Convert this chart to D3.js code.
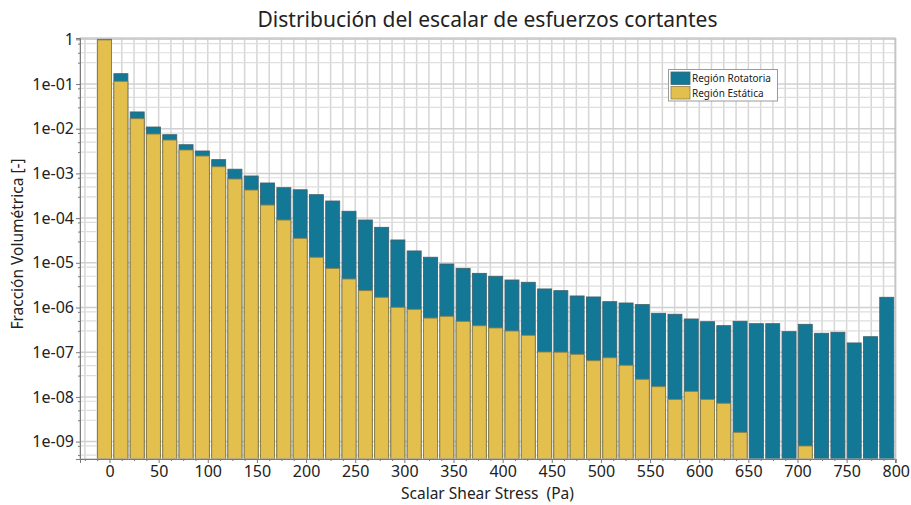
<!DOCTYPE html>
<html>
<head>
<meta charset="utf-8">
<script src="https://cdn.jsdelivr.net/npm/d3@7/dist/d3.min.js"></script>
<style>
  html, body { margin: 0; padding: 0; background: #ffffff; }
  svg { display: block; font-family: "Noto Sans", "Open Sans", sans-serif; }
</style>
</head>
<body>
<svg id="chart" width="911" height="505"></svg>
<script>
// Bin centres of the shear-stress histogram (Pa)
const binCenters = [-5, 11.6, 28.2, 44.7, 61.3, 77.9, 94.5, 111.1, 127.6, 144.2,
  160.8, 177.4, 194.0, 210.5, 227.1, 243.7, 260.3, 276.9, 293.4, 310.0,
  326.6, 343.2, 359.8, 376.3, 392.9, 409.5, 426.1, 442.7, 459.2, 475.8,
  492.4, 509.0, 525.6, 542.1, 558.7, 575.3, 591.9, 608.5, 625.0, 641.6,
  658.2, 674.8, 691.4, 707.9, 724.5, 741.1, 757.7, 774.3, 790.8];

// Volume fraction, rotating region
const rotatingFraction = [1.0, 0.17, 0.0237, 0.0109, 0.00734, 0.00438, 0.00317, 0.00203, 0.00124, 8.75e-4,
  6.1e-4, 4.79e-4, 4.3e-4, 3.34e-4, 2.41e-4, 1.42e-4, 9.06e-5, 6.22e-5, 3.24e-5, 1.84e-5,
  1.33e-5, 9.4e-6, 7.5e-6, 5.8e-6, 4.99e-6, 4.12e-6, 3.66e-6, 2.6e-6, 2.38e-6, 1.81e-6,
  1.72e-6, 1.35e-6, 1.26e-6, 1.16e-6, 7.4e-7, 7.05e-7, 5.53e-7, 4.81e-7, 3.92e-7, 4.91e-7,
  4.34e-7, 4.34e-7, 2.88e-7, 4.2e-7, 2.65e-7, 2.79e-7, 1.61e-7, 2.22e-7, 1.69e-6];

// Volume fraction, static region (0 = empty bin)
const staticFraction = [0.97, 0.115, 0.01675, 0.0076, 0.00558, 0.00334, 0.00245, 0.00141, 7.5e-4, 4.25e-4,
  1.96e-4, 9.06e-5, 3.53e-5, 1.33e-5, 7.5e-6, 4.34e-6, 2.38e-6, 1.69e-6, 1.01e-6, 9.1e-7,
  5.8e-7, 6.35e-7, 4.9e-7, 3.9e-7, 3.48e-7, 2.98e-7, 2.39e-7, 1.01e-7, 1.0e-7, 8.97e-8,
  6.45e-8, 7.5e-8, 5.1e-8, 2.48e-8, 1.69e-8, 8.8e-9, 1.33e-8, 8.8e-9, 7.2e-9, 1.61e-9,
  0, 0, 0, 7.97e-10, 0, 0, 0, 0, 0];

const xTicks = [0, 50, 100, 150, 200, 250, 300, 350, 400, 450, 500, 550, 600, 650, 700, 750, 800];
const yTicks = [1, 1e-1, 1e-2, 1e-3, 1e-4, 1e-5, 1e-6, 1e-7, 1e-8, 1e-9];
const yTickLabels = ["1", "1e-01", "1e-02", "1e-03", "1e-04", "1e-05", "1e-06", "1e-07", "1e-08", "1e-09"];
const seriesNames = ["Región Rotatoria", "Región Estática"];
const seriesColors = ["#127896", "#e3c04e"];

const W = 911, H = 505;
const margin = { top: 38, right: 16, bottom: 46, left: 80 };
const svg = d3.select("#chart");

const x = d3.scaleLinear().domain([-30, 799.2]).range([margin.left, W - margin.right]);
const y = d3.scaleLog().domain([4.08e-10, 1.07]).range([H - margin.bottom, margin.top]);
const binWidth = 14.2;

const plot = svg.append("g");

// Grid: vertical every 12.5 Pa, horizontal at decades and sub-decade marks
const vGrid = d3.range(-25, 800.1, 12.5);
plot.append("g").selectAll("line").data(vGrid).join("line")
  .attr("x1", d => x(d)).attr("x2", d => x(d))
  .attr("y1", margin.top).attr("y2", H - margin.bottom)
  .attr("stroke", "#d6d6d6").attr("stroke-width", 1.5);

const minorMult = [0.8, 0.5, 0.3];
const hMinor = [];
yTicks.forEach(t => minorMult.forEach(m => { const v = t * m; if (v > y.domain()[0]) hMinor.push(v); }));
plot.append("g").selectAll("line").data(hMinor).join("line")
  .attr("x1", margin.left).attr("x2", W - margin.right)
  .attr("y1", d => y(d)).attr("y2", d => y(d))
  .attr("stroke", "#dedede").attr("stroke-width", 1.2);
plot.append("g").selectAll("line").data(yTicks).join("line")
  .attr("x1", margin.left).attr("x2", W - margin.right)
  .attr("y1", d => y(d)).attr("y2", d => y(d))
  .attr("stroke", "#d0d0d0").attr("stroke-width", 1.5);

// Bars: rotating region behind, static region in front
const base = y.range()[0];
plot.append("g").selectAll("rect").data(binCenters).join("rect")
  .attr("x", d => x(d - binWidth / 2))
  .attr("width", d => x(d + binWidth / 2) - x(d - binWidth / 2))
  .attr("y", (d, i) => y(rotatingFraction[i]))
  .attr("height", (d, i) => base - y(rotatingFraction[i]))
  .attr("fill", seriesColors[0])
  .attr("stroke", "#3f6470").attr("stroke-width", 0.9);

plot.append("g").selectAll("rect").data(binCenters.filter((d, i) => staticFraction[i] > 0)).join("rect")
  .attr("x", d => x(d - binWidth / 2))
  .attr("width", d => x(d + binWidth / 2) - x(d - binWidth / 2))
  .attr("y", d => y(staticFraction[binCenters.indexOf(d)]))
  .attr("height", d => base - y(staticFraction[binCenters.indexOf(d)]))
  .attr("fill", seriesColors[1])
  .attr("stroke", "#8f7f4a").attr("stroke-width", 0.9);

// Frame
svg.append("rect")
  .attr("x", margin.left).attr("y", margin.top)
  .attr("width", W - margin.right - margin.left).attr("height", H - margin.bottom - margin.top)
  .attr("fill", "none").attr("stroke", "#b4b4b4").attr("stroke-width", 1);

// Axes
const xAxis = d3.axisBottom(x).tickValues(xTicks).tickSize(4).tickPadding(3).tickFormat(d3.format("d"));
const gx = svg.append("g").attr("transform", `translate(0,${H - margin.bottom})`).call(xAxis);
gx.select(".domain").attr("stroke", "#7a7a7a");
gx.selectAll(".tick line").attr("stroke", "#7a7a7a");
gx.selectAll("text").attr("font-size", 16).attr("fill", "#222").attr("font-family", "Noto Sans, sans-serif");

const xMinor = d3.axisBottom(x).tickValues(vGrid.filter(v => v % 50 !== 0)).tickSize(2).tickFormat("");
const gxm = svg.append("g").attr("transform", `translate(0,${H - margin.bottom})`).call(xMinor);
gxm.select(".domain").remove();
gxm.selectAll(".tick line").attr("stroke", "#7a7a7a");

const yAxis = d3.axisLeft(y).tickValues(yTicks).tickSize(4).tickPadding(2)
  .tickFormat((d, i) => yTickLabels[i]);
const gy = svg.append("g").attr("transform", `translate(${margin.left},0)`).call(yAxis);
gy.select(".domain").attr("stroke", "#7a7a7a");
gy.selectAll(".tick line").attr("stroke", "#7a7a7a");
gy.selectAll("text").attr("font-size", 16).attr("fill", "#222").attr("font-family", "Noto Sans, sans-serif");

const yMinor = d3.axisLeft(y).tickValues(hMinor).tickSize(2).tickFormat("");
const gym = svg.append("g").attr("transform", `translate(${margin.left},0)`).call(yMinor);
gym.select(".domain").remove();
gym.selectAll(".tick line").attr("stroke", "#7a7a7a");

// Titles
svg.append("text").attr("x", (margin.left + W - margin.right) / 2).attr("y", 27)
  .attr("text-anchor", "middle").attr("font-size", 21).attr("fill", "#222")
  .text("Distribución del escalar de esfuerzos cortantes");
svg.append("text").attr("x", (margin.left + W - margin.right) / 2).attr("y", 499)
  .attr("text-anchor", "middle").attr("font-size", 15.5).attr("fill", "#222")
  .attr("xml:space", "preserve").style("white-space", "pre")
  .text("Scalar Shear Stress  (Pa)");
svg.append("text").attr("transform", "translate(23,244) rotate(-90)")
  .attr("text-anchor", "middle").attr("font-size", 15.5).attr("fill", "#222")
  .text("Fracción Volumétrica [-]");

// Legend
const lg = svg.append("g").attr("transform", "translate(668.5,69.5)");
lg.append("rect").attr("width", 109).attr("height", 31.5)
  .attr("fill", "#ffffff").attr("stroke", "#9a9a9a").attr("stroke-width", 1);
seriesNames.forEach((name, i) => {
  lg.append("rect").attr("x", 2.5).attr("y", 2.5 + i * 14.5).attr("width", 19).attr("height", 12.5)
    .attr("fill", seriesColors[i]).attr("stroke", i === 0 ? "#3f6470" : "#8f7f4a").attr("stroke-width", 0.8);
  lg.append("text").attr("x", 23.5).attr("y", 12.5 + i * 14.5)
    .attr("font-size", 10).attr("fill", "#222").text(name);
});
</script>
</body>
</html>
